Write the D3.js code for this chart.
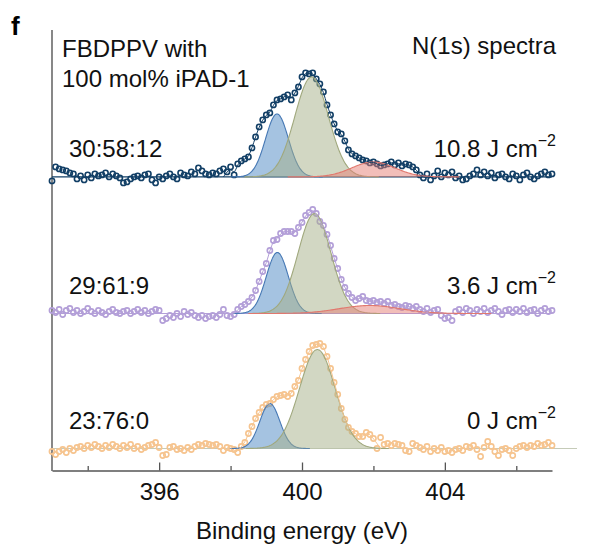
<!DOCTYPE html>
<html><head><meta charset="utf-8">
<script src="https://cdn.jsdelivr.net/npm/d3@7"></script>
<style>body{margin:0;background:#fff} text{font-family:"Liberation Sans",Arial,Helvetica,sans-serif}</style>
</head><body><svg id="c" width="597" height="560"></svg>
<script>
// ---- data (binding energy 393.0 .. 407.0 eV, 0.1 eV step; intensity a.u.) ----
const energyStart = 393.0, energyStep = 0.1;
const series = ["10.8 J", "3.6 J", "0 J"];
const ratioLabels = ["30:58:12", "29:61:9", "23:76:0"];
const fluenceLabels = ["10.8", "3.6", "0"];
const stackOffsets = [271.6, 135, 0];
const baselineEnds = [407, 407, 407.7];
const envelopeRange = [[398.0, 403.4], [398.1, 403.4], [398.2, 402.0]];

const counts108 = [-4,10,8,7,6,4,3,-2,1,-3, 2,-1,3,1,2,4,0,3,1,-1, -6,-5,-2,0,1,-1,2,3,-3,-6,
  0,-2,1,3,0,-2,4,2,1,5, 3,9,6,3,2,4,3,6,8,5, 10,2,13,16,18,20,29,40,50,57,
  62,64,72,77,78,80,82,77,84,90, 100,104,103,104,98,93,85,72,62,53, 45,43,36,27,23,21,19,17,16,14,
  15,13,11,12,13,15,12,14,11,13, 12,10,7,2,-1,3,-3,1,6,0, 4,2,5,-1,1,-3,-2,1,3,7,
  2,5,1,4,-1,2,3,0,-2,3, 1,-3,2,4,0,-2,1,3,5,2, 3];
const counts36 = [3,1,4,-1,3,5,1,3,0,2, 5,2,0,3,1,-1,2,4,1,0, 2,3,0,2,4,1,3,0,2,4,
  3,-7,-5,-2,-4,0,-3,2,-1,1, -2,-4,-2,-5,-3,-2,-4,-1,4,-2, -3,-1,4,7,9,12,16,23,32,42,
  50,63,73,74,80,82,82,82,80,86, 91,98,101,104,100,92,88,79,68,55, 45,34,26,20,16,13,15,17,13,12,
  13,11,12,10,12,8,9,7,6,8, 7,5,7,4,2,5,1,3,4,-2, -5,-4,-7,2,4,1,5,3,0,4,
  2,5,1,3,5,2,-1,3,4,1, 4,2,5,1,3,4,0,3,5,2, 3];
const counts0 = [-3,-6,-3,-1,-4,0,-2,1,2,0, 3,1,4,2,0,3,1,4,2,0, 3,1,4,0,2,-1,1,3,4,6,
  1,-7,-6,1,2,-1,0,-2,1,-1, 2,4,3,5,4,3,4,2,-2,1, 0,-1,-4,2,6,15,22,30,36,41,
  44,45,49,52,53,54,52,55,62,68, 80,89,97,103,104,105,102,92,80,66, 54,40,29,21,17,15,12,12,16,14,
  10,0,11,4,5,3,5,4,3,-2, -3,5,3,1,-1,2,-3,0,-2,1, -3,-2,-4,-1,0,-2,2,1,3,-1,
  -8,1,7,2,-3,-7,-1,0,-2,-7, 0,2,3,1,3,2,5,3,4,6, 3];
const seriesCounts = [counts108, counts36, counts0];

// fitted components: [centre eV, height, sigma eV] ; low-BE (blue), main (green), high-BE (red)
const peakBlue  = [[399.30, 63, 0.32], [399.31, 61, 0.31], [399.10, 45, 0.28]];
const peakGreen = [[400.27, 100, 0.47], [400.35, 100, 0.46], [400.43, 99, 0.50]];
const peakRed   = [[402.00, 15, 0.60], [401.90, 8, 0.85], [402.0, 0, 0.6]];

const xTicksMajor = [396, 400, 404];
const xTicksMinor = [394, 398, 402, 406];
const seriesColors = ["#123f66", "#b39fd8", "#f6c48f"];
const compFill = ["rgb(75,135,195)", "rgb(165,175,135)", "rgb(229,125,115)"];
const compStroke = ["rgb(70,120,180)", "rgb(160,168,125)", "rgb(225,120,110)"];
const baselineColors = ["#123f66", "#b39fd8", "#c5cbb8"];

// ---- drawing ----
const svg = d3.select("#c");
const x = d3.scaleLinear().domain([393, 407]).range([52, 552]);
const y = d3.scaleLinear().domain([-22, 418]).range([470.5, 30.5]);

const gauss = (e, p) => p[1] * Math.exp(-((e - p[0]) ** 2) / (2 * p[2] * p[2]));

svg.append("text").attr("x", 11).attr("y", 35).attr("font-size", 26).attr("font-weight", "bold").text("f");

// axes
const axisG = svg.append("g").attr("transform", "translate(0,470.5)");
axisG.call(d3.axisBottom(x).tickValues(xTicksMajor).tickSizeInner(-8).tickSizeOuter(0).tickPadding(12.5).tickFormat(d3.format("d")));
const minorG = svg.append("g").attr("transform", "translate(0,470.5)");
minorG.call(d3.axisBottom(x).tickValues(xTicksMinor).tickSizeInner(-4.5).tickSizeOuter(0).tickFormat(""));
minorG.select(".domain").remove();
[axisG, minorG].forEach(g => {
  g.selectAll("line").attr("stroke", "#555").attr("stroke-width", 1.3);
  g.select(".domain").attr("stroke", "#555").attr("stroke-width", 1.4);
  g.selectAll("text").attr("font-size", 24).attr("fill", "#111").attr("font-family", "Liberation Sans, Arial, sans-serif");
});
svg.append("line").attr("x1", 52).attr("x2", 52).attr("y1", 30).attr("y2", 471)
  .attr("stroke", "#555").attr("stroke-width", 1.4);

svg.append("text").attr("x", 302).attr("y", 539).attr("text-anchor", "middle").attr("font-size", 24)
  .attr("fill", "#111").text("Binding energy (eV)");

// spectra
series.forEach((s, i) => {
  const off = stackOffsets[i];
  const g = svg.append("g");
  const pts = seriesCounts[i].map((v, k) => ({ e: energyStart + k * energyStep, v }));

  g.append("line").attr("x1", x(393)).attr("x2", x(baselineEnds[i]))
    .attr("y1", y(off)).attr("y2", y(off)).attr("stroke", baselineColors[i]).attr("stroke-width", 1.2);

  g.selectAll("circle").data(pts).join("circle")
    .attr("cx", d => x(d.e)).attr("cy", d => y(off + d.v)).attr("r", 2.6)
    .attr("fill", "none").attr("stroke", seriesColors[i]).attr("stroke-width", 1.6);

  [peakBlue[i], peakGreen[i], peakRed[i]].forEach((p, c) => {
    if (p[1] <= 0) return;
    const es = d3.range(p[0] - 4 * p[2], p[0] + 4 * p[2] + 1e-9, p[2] / 20);
    const area = d3.area().x(e => x(e)).y0(y(off)).y1(e => y(off + gauss(e, p))).curve(d3.curveBasis);
    g.append("path").attr("d", area(es)).attr("fill", compFill[c]).attr("fill-opacity", 0.5);
    const line = d3.line().x(e => x(e)).y(e => y(off + gauss(e, p))).curve(d3.curveBasis);
    g.append("path").attr("d", line(es)).attr("fill", "none").attr("stroke", compStroke[c]).attr("stroke-width", 1.1);
  });

  // fitted envelope through the data in the peak region
  const r = envelopeRange[i];
  const envPts = [{ e: r[0] - 0.2, v: 0 }].concat(pts.filter(d => d.e >= r[0] - 1e-9 && d.e <= r[1] + 1e-9), [{ e: r[1] + 0.2, v: 0 }]);
  const env = d3.line().x(d => x(d.e)).y(d => y(off + d.v)).curve(d3.curveBasis);
  g.append("path").attr("d", env(envPts)).attr("fill", "none").attr("stroke", seriesColors[i]).attr("stroke-width", 1);

  const by = y(off) - 20;
  svg.append("text").attr("x", 69).attr("y", by).attr("font-size", 24).attr("fill", "#111").text(ratioLabels[i]);
  const t = svg.append("text").attr("x", 556).attr("y", by).attr("text-anchor", "end").attr("font-size", 24).attr("fill", "#111");
  t.append("tspan").text(fluenceLabels[i] + " J cm");
  t.append("tspan").attr("font-size", 16).attr("dy", -11).text("\u22122");
});

svg.append("text").attr("x", 62).attr("y", 57).attr("font-size", 24).attr("fill", "#111").text("FBDPPV with");
svg.append("text").attr("x", 62).attr("y", 87).attr("font-size", 24).attr("fill", "#111").text("100 mol% iPAD-1");
svg.append("text").attr("x", 556).attr("y", 54).attr("text-anchor", "end").attr("font-size", 24).attr("fill", "#111").text("N(1s) spectra");
</script></body></html>
